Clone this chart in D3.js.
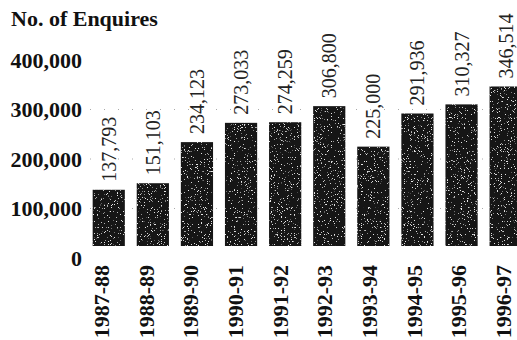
<!DOCTYPE html>
<html>
<head>
<meta charset="utf-8">
<script src="https://cdn.jsdelivr.net/npm/d3@7"></script>
<style>
  html, body { margin: 0; padding: 0; background: #fff; }
  svg { display: block; }
</style>
</head>
<body>
<svg id="chart" width="517" height="340"></svg>
<script>
const categories = ["1987-88","1988-89","1989-90","1990-91","1991-92","1992-93","1993-94","1994-95","1995-96","1996-97"];
const enquiries = [137793, 151103, 234123, 273033, 274259, 306800, 225000, 291936, 310327, 346514];
const yTicks = [0, 100000, 200000, 300000, 400000];
const title = "No. of Enquires";

const W = 517, H = 340;
const svg = d3.select("#chart");
const serif = "'Liberation Serif', 'DejaVu Serif', serif";

const baseY = 246;
const y = d3.scaleLinear().domain([0, 400000]).range([258, 60]);
const x = d3.scaleBand().domain(categories).range([86.7, 527.7])
  .paddingInner(0.27).paddingOuter(0.135);
const xl = d3.scalePoint().domain(categories).range([102, 504]);
const fmt = d3.format(",");

// speckle filter for bar texture
const defs = svg.append("defs");
const f = defs.append("filter").attr("id", "speckle").attr("x", 0).attr("y", 0).attr("width", 1).attr("height", 1);
f.append("feTurbulence").attr("type", "fractalNoise").attr("baseFrequency", 1.3).attr("numOctaves", 1).attr("seed", 3).attr("result", "noise");
f.append("feColorMatrix").attr("in", "noise").attr("type", "matrix")
  .attr("values", "0 0 0 0 0.8  0 0 0 0 0.8  0 0 0 0 0.8  0 0 0 -16 5.6").attr("result", "dots");
f.append("feComposite").attr("in", "dots").attr("in2", "SourceGraphic").attr("operator", "in").attr("result", "dotsIn");
f.append("feMerge").selectAll("feMergeNode").data(["SourceGraphic", "dotsIn"]).join("feMergeNode").attr("in", d => d);

// title
svg.append("text").attr("x", 11).attr("y", 26)
  .attr("font-family", serif).attr("font-weight", "bold").attr("font-size", 22)
  .attr("fill", "#111").text(title);

// faint dotted gridlines
svg.append("g").selectAll("line").data(yTicks.slice(1, 4)).join("line")
  .attr("x1", 90).attr("x2", W)
  .attr("y1", d => y(d)).attr("y2", d => y(d))
  .attr("stroke", "#aaa").attr("stroke-width", 1).attr("stroke-dasharray", "1 13");

// y axis
const yAxis = d3.axisLeft(y).tickValues(yTicks).tickFormat(fmt).tickSize(0).tickPadding(0);
const ga = svg.append("g").attr("transform", "translate(82,0)").call(yAxis);
ga.select(".domain").remove();
ga.selectAll("text").attr("font-family", serif).attr("font-weight", "bold")
  .attr("font-size", 22).attr("fill", "#111");

// bars
svg.append("g").selectAll("rect").data(enquiries).join("rect")
  .attr("x", (d, i) => x(categories[i]))
  .attr("width", x.bandwidth())
  .attr("y", d => y(d))
  .attr("height", d => baseY - y(d))
  .attr("fill", "#161616")
  .attr("filter", "url(#speckle)");

// value labels
svg.append("g").selectAll("text").data(enquiries).join("text")
  .attr("transform", (d, i) => `translate(${x(categories[i]) + x.bandwidth() / 2 + 7},${y(d) - 8}) rotate(-90)`)
  .attr("font-family", serif).attr("font-size", 20).attr("fill", "#222")
  .text(d => fmt(d));

// category labels
svg.append("g").selectAll("text").data(categories).join("text")
  .attr("transform", d => `translate(${xl(d) + 7},265) rotate(-90)`)
  .attr("text-anchor", "end")
  .attr("font-family", serif).attr("font-weight", "bold").attr("font-size", 22).attr("fill", "#111")
  .text(d => d);
</script>
</body>
</html>
